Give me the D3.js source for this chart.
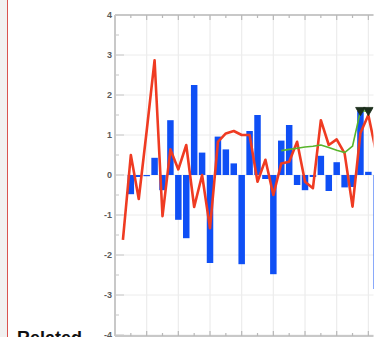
<!DOCTYPE html>
<html>
<head>
<meta charset="utf-8">
<script src="https://d3js.org/d3.v7.min.js"></script>
<style>
  body { margin: 0; background: #fff; overflow: hidden; }
  svg { display: block; }
</style>
</head>
<body>
<div id="chart"></div>
<script>
// values, index = position along x (0 = y axis)
var barIdx = [2,3,4,5,6,7,8,9,10,11,12,13,14,15,16,17,18,19,20,21,22,23,24,25,26,27,28,29,30,31,32,33];
var barVals = [-0.48,-0.05,-0.03,0.43,-0.38,1.37,-1.12,-1.58,2.25,0.56,-2.2,0.96,0.64,0.29,-2.23,1.1,1.5,-0.1,-2.48,0.86,1.25,-0.25,-0.38,-0.05,0.48,-0.4,0.32,-0.31,-0.3,1.6,0.08,-2.85];

var redIdx = [1,2,3,4,5,6,7,8,9,10,11,12,13,14,15,16,17,18,19,20,21,22,23,24,25,26,27,28,29,30,31,32,33];
var redVals = [-1.62,0.5,-0.6,1.1,2.87,-1.03,0.64,0.14,0.75,-0.8,0.0,-1.33,0.83,1.04,1.1,1.0,1.0,-0.17,0.38,-0.5,0.29,0.33,0.83,-0.17,-0.33,1.37,0.75,0.89,0.54,-0.79,1.05,1.5,0.55];

var greenIdx = [21,22,23,24,25,26,27,28,29,30,31,32];
var greenVals = [0.61,0.64,0.67,0.7,0.72,0.75,0.69,0.62,0.56,0.72,1.6,1.6];

var markerIdx = [31,32];
var markerVals = [1.62,1.62];

var yTicks = [4,3,2,1,0,-1,-2,-3,-4];
var xMajor = [0,4,8,12,16,20,24,28,32,36,40];

(function () {
    var W = 378, H = 337;
    var svg = d3.select("#chart").append("svg").attr("width", W).attr("height", H);

    // page chrome on the left
    svg.append("rect").attr("x", 0).attr("y", 0).attr("width", 7).attr("height", H).attr("fill", "#f1f1f1");
    svg.append("line").attr("x1", 7.5).attr("x2", 7.5).attr("y1", 0).attr("y2", H)
        .attr("stroke", "#d9534f").attr("stroke-width", 1);

    var pl = 115, pt = 15, pb = 335; // plot box
    var clipR = 373.5; // the chart's container cuts it off here
    var x = d3.scaleLinear().domain([0, 40]).range([pl, pl + 316.7]);
    var y = d3.scaleLinear().domain([-4, 4]).range([pb, pt]);
    var step = x(1) - x(0);

    svg.append("clipPath").attr("id", "cut").append("rect")
        .attr("x", 0).attr("y", 0).attr("width", clipR).attr("height", H);
    var g = svg.append("g").attr("clip-path", "url(#cut)");

    // grid
    g.selectAll(".hg").data(yTicks).enter().append("line")
        .attr("x1", pl).attr("x2", W).attr("y1", function (d) { return y(d); }).attr("y2", function (d) { return y(d); })
        .attr("stroke", "#ececec").attr("stroke-width", 1);
    g.selectAll(".vg").data(xMajor.slice(1)).enter().append("line")
        .attr("x1", function (d) { return x(d); }).attr("x2", function (d) { return x(d); })
        .attr("y1", pt).attr("y2", pb)
        .attr("stroke", "#ececec").attr("stroke-width", 1.2);

    // bars
    var bars = barIdx.map(function (d, i) { return {i: d, v: barVals[i]}; });
    g.selectAll(".bar").data(bars).enter().append("rect")
        .attr("x", function (d) { return x(d.i) - step * 0.41; })
        .attr("width", step * 0.82)
        .attr("y", function (d) { return y(Math.max(0, d.v)); })
        .attr("height", function (d) { return Math.abs(y(d.v) - y(0)); })
        .attr("fill", "#0f4ff5");

    // red line
    var line = d3.line().x(function (d) { return x(d[0]); }).y(function (d) { return y(d[1]); });
    g.append("path").datum(redIdx.map(function (d, i) { return [d, redVals[i]]; }))
        .attr("d", line).attr("fill", "none").attr("stroke", "#ef3b22")
        .attr("stroke-width", 2.6).attr("stroke-linejoin", "round");

    // green line
    g.append("path").datum(greenIdx.map(function (d, i) { return [d, greenVals[i]]; }))
        .attr("d", line).attr("fill", "none").attr("stroke", "#58b52c")
        .attr("stroke-width", 1.6).attr("stroke-linejoin", "round");

    // triangle markers
    var tri = d3.symbol().type(d3.symbolTriangle).size(40);
    g.selectAll(".mk").data(markerIdx.map(function (d, i) { return [d, markerVals[i]]; })).enter().append("path")
        .attr("d", tri)
        .attr("transform", function (d) { return "translate(" + x(d[0]) + "," + y(d[1]) + ") rotate(180)"; })
        .attr("fill", "#1c2f1c").attr("stroke", "#1c2f1c").attr("stroke-width", 0.8);

    // axes frame
    var axisCol = "#c8c8c8";
    g.append("line").attr("x1", pl).attr("x2", pl).attr("y1", pt).attr("y2", pb + 1)
        .attr("stroke", axisCol).attr("stroke-width", 2);
    g.append("line").attr("x1", pl).attr("x2", W).attr("y1", pt).attr("y2", pt)
        .attr("stroke", axisCol).attr("stroke-width", 2);
    g.append("line").attr("x1", pl).attr("x2", W).attr("y1", pb + 1).attr("y2", pb + 1)
        .attr("stroke", axisCol).attr("stroke-width", 2);

    // y axis ticks, pointing inward
    var yMinor = d3.range(-3.5, 4, 1);
    g.selectAll(".yt").data(yTicks).enter().append("line")
        .attr("x1", pl).attr("x2", pl + 9).attr("y1", function (d) { return y(d); }).attr("y2", function (d) { return y(d); })
        .attr("stroke", axisCol).attr("stroke-width", 1.2);
    g.selectAll(".ym").data(yMinor).enter().append("line")
        .attr("x1", pl).attr("x2", pl + 4).attr("y1", function (d) { return y(d); }).attr("y2", function (d) { return y(d); })
        .attr("stroke", axisCol).attr("stroke-width", 1.2);
    svg.selectAll(".yl").data(yTicks).enter().append("text")
        .attr("x", pl - 3).attr("y", function (d) { return y(d); })
        .attr("dy", "0.35em").attr("text-anchor", "end")
        .style("font-family", "Liberation Sans, Arial, sans-serif").style("font-size", "9px").style("font-weight", "bold")
        .attr("fill", "#5a5a5a")
        .text(function (d) { return d < 0 ? "-" + Math.abs(d) : d; });

    // top + bottom ticks
    var xMinor = xMajor.map(function (d) { return d + 2; });
    [pt, pb + 1].forEach(function (yy) {
        var dir = yy === pt ? 1 : -1;
        g.selectAll(null).data(xMajor.slice(1)).enter().append("line")
            .attr("x1", function (d) { return x(d); }).attr("x2", function (d) { return x(d); })
            .attr("y1", yy).attr("y2", yy + dir * 5)
            .attr("stroke", "#b8b8b8").attr("stroke-width", 1.2);
        g.selectAll(null).data(xMinor).enter().append("line")
            .attr("x1", function (d) { return x(d); }).attr("x2", function (d) { return x(d); })
            .attr("y1", yy).attr("y2", yy + dir * 3)
            .attr("stroke", "#b8b8b8").attr("stroke-width", 1.2);
    });

    // heading under the chart, cut by the window
    svg.append("text").attr("x", 17).attr("y", 344)
        .style("font-family", "Liberation Sans, Arial, sans-serif").style("font-size", "18px").style("font-weight", "bold")
        .attr("fill", "#111").text("Related");
}());
</script>
</body>
</html>
